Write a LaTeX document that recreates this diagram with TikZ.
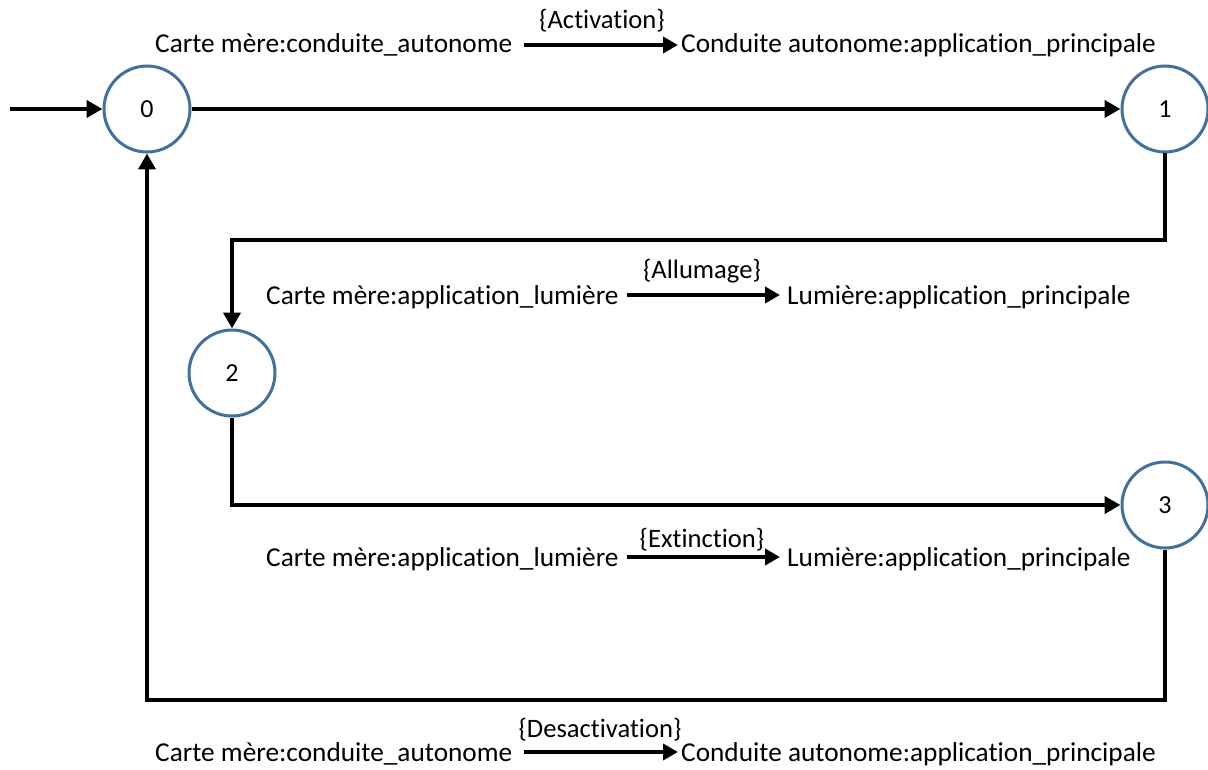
\documentclass[tikz,border=0pt]{standalone}
\usepackage{fontspec}
\setmainfont{Carlito}[Ligatures={NoCommon,NoRequired,NoContextual}]
\usetikzlibrary{arrows.meta}
\definecolor{circ}{HTML}{41719C}
\tikzset{
  state/.style={circle, draw=circ, line width=3pt, minimum size=86pt, inner sep=0pt, font=\fontsize{26}{30}\selectfont},
  conn/.style={line width=4.5pt, -{Triangle[length=16pt,width=17pt]}},
  msg/.style={line width=4pt, -{Triangle[length=15pt,width=16pt]}},
  txt/.style={font=\fontsize{27.3}{31}\selectfont, inner sep=0pt},
  lbl/.style={font=\fontsize{26.6}{30}\selectfont, inner sep=0pt, anchor=base}
}
\begin{document}
\begin{tikzpicture}[x=1pt,y=-1pt]
\useasboundingbox (0,0) rectangle (1208,770);
% states
\node[state] (s0) at (147,109) {0};
\node[state] (s1) at (1165,109) {1};
\node[state] (s2) at (232,373) {2};
\node[state] (s3) at (1165,505) {3};
% connectors
\coordinate (start) at (10,109);
\draw[conn] (start) -- (s0);
\draw[conn] (s0) -- (s1);
\draw[conn] (s1.south) -- (1165,240) -- (232,240) -- (s2.north);
\draw[conn] (s2.south) |- (s3.west);
\draw[conn] (s3.south) -- (1165,700) -- (147,700) -- (s0.south);
% row 1
\node[txt, anchor=base west] (a1) at (155,53) {Carte mère:conduite\_autonome};
\node[txt, anchor=base west] (b1) at (681,53) {Conduite autonome:application\_principale};
\coordinate (a1e) at (524,45);
\coordinate (b1s) at (678,45);
\draw[msg] (a1e) -- (b1s);
\node[lbl] (l1) at (602,29) {\{Activation\}};
% row 2
\node[txt, anchor=base west] (a2) at (266,305) {Carte mère:application\_lumière};
\node[txt, anchor=base west] (b2) at (787,305) {Lumière:application\_principale};
\coordinate (a2e) at (627,295);
\coordinate (b2s) at (780,295);
\draw[msg] (a2e) -- (b2s);
\node[lbl] (l2) at (702,279) {\{Allumage\}};
% row 3
\node[txt, anchor=base west] (a3) at (266,566) {Carte mère:application\_lumière};
\node[txt, anchor=base west] (b3) at (787,566) {Lumière:application\_principale};
\coordinate (a3e) at (627,557);
\coordinate (b3s) at (780,557);
\draw[msg] (a3e) -- (b3s);
\node[lbl] (l3) at (702,547) {\{Extinction\}};
% row 4
\node[txt, anchor=base west] (a4) at (155,761) {Carte mère:conduite\_autonome};
\node[txt, anchor=base west] (b4) at (681,761) {Conduite autonome:application\_principale};
\coordinate (a4e) at (524,752);
\coordinate (b4s) at (678,752);
\draw[msg] (a4e) -- (b4s);
\node[lbl] (l4) at (600,737) {\{Desactivation\}};
\end{tikzpicture}
\end{document}
